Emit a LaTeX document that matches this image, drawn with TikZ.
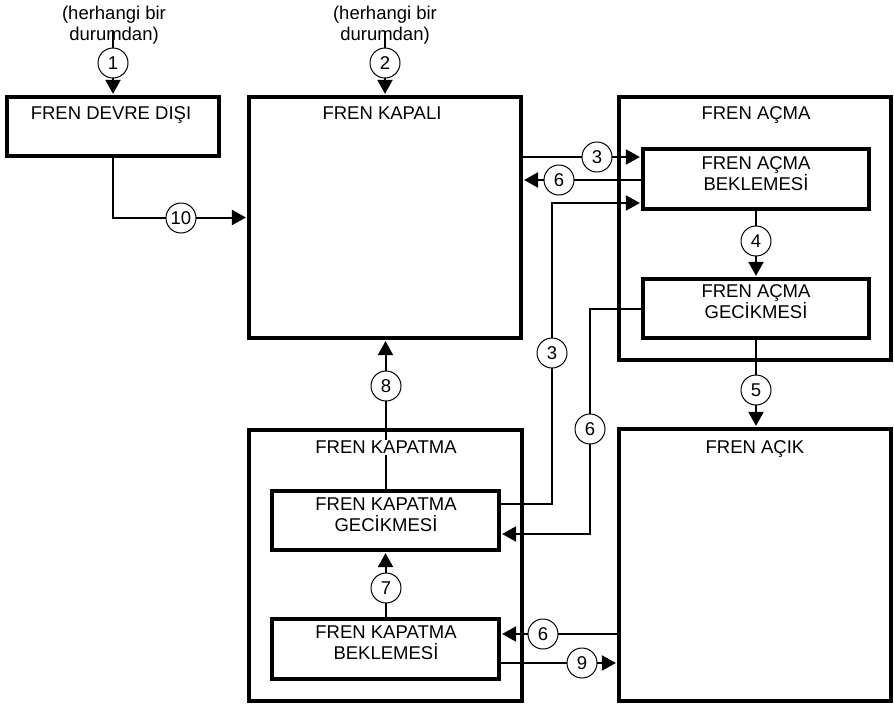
\documentclass[tikz,border=0pt]{standalone}
\usepackage{fontspec}
\setmainfont{Liberation Sans}
\usetikzlibrary{arrows.meta,calc}
\pgfdeclarelayer{bg}
\pgfsetlayers{bg,main}
\begin{document}
\begin{tikzpicture}[x=1pt,y=-1pt,
  font=\fontsize{18.5}{21}\selectfont,
  box/.style={draw,line width=3.2pt,rectangle,inner sep=0pt},
  lab/.style={draw,circle,line width=1pt,fill=white,minimum size=30pt,inner sep=0pt},
  conn/.style={line width=2pt},
  arr/.style={conn,-{Triangle[length=14pt,width=15pt]},shorten >=1.5pt},
  ttl/.style={anchor=base,inner sep=1pt},
  txt/.style={align=center,inner sep=0pt}]
\useasboundingbox (0,0) rectangle (894,704);

% boxes
\node[box,minimum width=212pt,minimum height=59pt] (devre) at (113,126.5) {};
\node[box,minimum width=272pt,minimum height=241pt] (kapali) at (385,217.5) {};
\node[box,minimum width=272pt,minimum height=263pt] (acma) at (755,228.5) {};
\node[box,minimum width=226pt,minimum height=60pt] (acmabek) at (756,179) {};
\node[box,minimum width=226pt,minimum height=59pt] (acmagec) at (756,308.5) {};
\node[box,minimum width=273pt,minimum height=271pt] (kapatma) at (385.5,565.5) {};
\node[box,minimum width=227pt,minimum height=59pt] (kapgec) at (385.5,520.5) {};
\node[box,minimum width=227pt,minimum height=60pt] (kapbek) at (385.5,649) {};
\node[box,minimum width=272pt,minimum height=272pt] (acik) at (755,565) {};

% titles and texts
\node[txt] (any1) at (114,25) {(herhangi bir\\durumdan)};
\node[txt] (any2) at (385,25) {(herhangi bir\\durumdan)};
\node[ttl] (devre-t) at (111,119) {FREN DEVRE DIŞI};
\node[ttl] (kapali-t) at (382,119) {FREN KAPALI};
\node[ttl] (acma-t) at (756,119) {FREN AÇMA};
\node[ttl,fill=white] (kapatma-t) at (386,453.6) {FREN KAPATMA};
\node[ttl] (acik-t) at (755,453.6) {FREN AÇIK};
\node[txt] (acmabek-t) at (756,174) {FREN AÇMA\\BEKLEMESİ};
\node[txt] (acmagec-t) at (756,302) {FREN AÇMA\\GECİKMESİ};
\node[txt] (kapgec-t) at (386,514.5) {FREN KAPATMA\\GECİKMESİ};
\node[txt] (kapbek-t) at (386,642.5) {FREN KAPATMA\\BEKLEMESİ};

% circled numbers
\node[lab] (c1) at (113,63) {1};
\node[lab] (c2) at (385,63) {2};
\node[lab] (c10) at (181,218) {10};
\node[lab] (c3a) at (597,157) {3};
\node[lab] (c6a) at (559,180) {6};
\node[lab] (c3b) at (552,353) {3};
\node[lab] (c6b) at (590,429) {6};
\node[lab] (c4) at (756,241) {4};
\node[lab] (c5) at (756,390) {5};
\node[lab] (c8) at (386,386) {8};
\node[lab] (c7) at (386,588) {7};
\node[lab] (c6c) at (543,634) {6};
\node[lab] (c9) at (582,663) {9};

\coordinate (s1) at (113,31);
\coordinate (s2) at (385,31);

% connectors
\begin{pgfonlayer}{bg}
\draw[arr] (s1) -- (devre.north);
\draw[arr] (s2) -- (kapali.north);
\draw[arr] (devre.south) |- (kapali.west);
\draw[arr] (kapali.east |- c3a) -- (acmabek.west |- c3a);
\draw[arr] (acmabek.west |- c6a) -- (kapali.east |- c6a);
\draw[arr] ([yshift=16.5pt]kapgec.east) -| (c3b.center) |- ([yshift=-24pt]acmabek.west);
\draw[arr] (acmagec.west) -| (c6b.center) |- ([yshift=-13.5pt]kapgec.east);
\draw[arr] (acmabek.south) -- (acmagec.north);
\draw[arr] (acmagec.south) -- (acmagec.south |- acik.north);
\draw[arr] (kapgec.north) -- (kapgec.north |- kapali.south);
\draw[arr] (kapbek.north) -- (kapgec.south);
\draw[arr] (acik.west |- c6c) -- (kapbek.east |- c6c);
\draw[arr] (kapbek.east |- c9) -- (acik.west |- c9);
\end{pgfonlayer}
\end{tikzpicture}
\end{document}
